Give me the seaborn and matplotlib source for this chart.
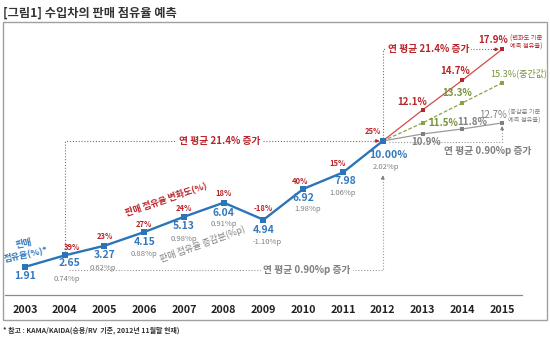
import numpy as np
import pandas as pd
import matplotlib
matplotlib.use("Agg")
import matplotlib.pyplot as plt
from matplotlib.patches import Rectangle
import seaborn as sns

sns.set_theme(style="white")
plt.rcParams['font.family'] = ['Noto Sans CJK KR', 'DejaVu Sans']

# ---------------- data ----------------
years = [2003, 2004, 2005, 2006, 2007, 2008, 2009, 2010, 2011, 2012, 2013, 2014, 2015]
hist_years = [2003, 2004, 2005, 2006, 2007, 2008, 2009, 2010, 2011, 2012]
share = [1.91, 2.65, 3.27, 4.15, 5.13, 6.04, 4.94, 6.92, 7.98, 10.00]
pct_change = [None, 39, 23, 27, 24, 18, -18, 40, 15, 25]
pp_change = [None, 0.74, 0.62, 0.88, 0.98, 0.91, -1.10, 1.98, 1.06, 2.02]

fc_years = [2013, 2014, 2015]
# printed forecast values
red_values = [12.1, 14.7, 17.9]
green_values = [11.5, 13.3, 15.3]
gray_values = [10.9, 11.8, 12.7]
# heights at which the (schematic) forecast points are drawn in the picture
red_level = [11.99, 13.90, 15.88]
green_level = [11.16, 12.44, 13.73]
gray_level = [10.45, 10.77, 11.16]

title = "[그림1] 수입차의 판매 점유율 예측"
footnote = "* 참고 : KAMA/KAIDA(승용/RV  기준, 2012년 11월말 현재)"

# ---------------- colours ----------------
BLUE = '#2c74b9'
BLUE_T = '#3579bd'
RED = '#b9252b'
RED_L = '#cf4b4b'
GREEN = '#77933c'
GREEN_L = '#88a448'
GRAY = '#808080'
GRAY_L = '#9a9a9a'

pos = {y: i for i, y in enumerate(years)}
df_hist = pd.DataFrame({'x': [pos[y] for y in hist_years], 'share': share})
start_x = pos[hist_years[-1]]
start_y = share[-1]
def fc_df(level):
    return pd.DataFrame({'x': [start_x] + [pos[y] for y in fc_years],
                         'share': [start_y] + level})

fig = plt.figure(figsize=(5.5, 3.4), dpi=100)
ax = fig.add_axes([5/550, (340-294.5)/340, 517/550, (294.5-22)/340])
ax.set_xlim(-0.5, 12.5)
ax.set_ylim(0.14, 17.64)
ax.patch.set_alpha(0)

# frame box and titles
fig.patches.append(Rectangle((3/550, (340-320)/340), 544/550, 298/340,
                             transform=fig.transFigure, fill=False,
                             edgecolor='#a0a0a0', lw=1.0))
fig.text(3/550, 1-13/340, title, fontsize=8.8, fontweight='bold',
         color='#333333', ha='left', va='center')
fig.text(3/550, 1-330/340, footnote, fontsize=5, fontweight='bold',
         color='#333333', ha='left', va='center')

# forecast lines
sns.lineplot(data=fc_df(red_level), x='x', y='share', ax=ax, color=RED_L,
             lw=0.9, marker='s', markersize=3.5, markeredgewidth=0,
             markerfacecolor=RED, zorder=3)
sns.lineplot(data=fc_df(green_level), x='x', y='share', ax=ax, color=GREEN_L,
             lw=0.9, linestyle=(0, (3, 1.5)), marker='s', markersize=3.5,
             markeredgewidth=0, markerfacecolor=GREEN_L, zorder=3)
sns.lineplot(data=fc_df(gray_level), x='x', y='share', ax=ax, color=GRAY_L,
             lw=0.9, marker='s', markersize=3.5, markeredgewidth=0,
             markerfacecolor=GRAY, zorder=3)
# history line
sns.lineplot(data=df_hist, x='x', y='share', ax=ax, color=BLUE, lw=1.7,
             marker='s', markersize=4.3, markeredgewidth=0, zorder=5)

# axes styling
for s in ['top', 'left', 'right']:
    ax.spines[s].set_visible(False)
ax.spines['bottom'].set_color('#8a8a8a')
ax.spines['bottom'].set_linewidth(0.9)
ax.set_xticks(range(len(years)))
ax.set_xticklabels([str(y) for y in years], fontsize=7.8, fontweight='bold',
                   color='#222222')
ax.set_xticks(np.arange(-0.5, len(years), 1.0), minor=True)
ax.tick_params(axis='x', which='major', length=0, pad=7.5)
ax.tick_params(axis='x', which='minor', length=4, direction='inout',
               color='#8a8a8a', width=0.8)
ax.set_yticks([])
ax.set_xlabel('')
ax.set_ylabel('')

def lab(x, y, text, dx, dy, color, size, weight='bold', ha='center', **kw):
    ax.annotate(text, (x, y), xytext=(dx, dy), textcoords='offset pixels',
                ha=ha, va='center', fontsize=size, fontweight=weight,
                color=color, annotation_clip=False, zorder=6, **kw)

# history labels
pct_off = [None, (7, 8), (0, 9), (0, 8), (0, 8), (0, 9), (0, 11), (-3, 7), (-5, 9), (-10, 9)]
val_off = [(0, -9), (5, -8), (0, -9), (0, -10), (0, -9), (0, -10), (0, -10), (0, -9), (2, -9), (6, -14)]
pp_off = [None, (2, -24), (-2, -22), (0, -22), (0, -22), (0, -21), (4, -22), (4, -20), (0, -21), (3, -26)]
for i, yr in enumerate(hist_years):
    x, y = pos[yr], share[i]
    vt = f"{share[i]:.2f}" + ('%' if i == len(hist_years) - 1 else '')
    lab(x, y, vt, *val_off[i], BLUE_T, 7.5)
    if pct_change[i] is not None:
        lab(x, y, f"{pct_change[i]}%", *pct_off[i], RED, 5.5)
    if pp_change[i] is not None:
        lab(x, y, f"{pp_change[i]:.2f}%p", *pp_off[i], GRAY, 5.5, weight='normal')

# forecast labels
red_off = [(-10, 8), (-7, 9), (-9, 9)]
for i, yr in enumerate(fc_years):
    lab(pos[yr], red_level[i], f"{red_values[i]}%", *red_off[i], RED, 7)
lab(pos[2015], red_level[2], "(변화도 기준\n예측 점유율)", 8, 7, RED, 4.5,
    ha='left', weight='normal', linespacing=1.0)

lab(pos[2013], green_level[0], f"{green_values[0]}%", 6, 0, GREEN, 7, ha='left')
lab(pos[2014], green_level[1], f"{green_values[1]}%", -5, 10, GREEN, 7)
lab(pos[2015], green_level[2], f"{green_values[2]}%(중간값)", -12, 10, GREEN, 6.5,
    ha='left', weight='normal')

lab(pos[2013], gray_level[0], f"{gray_values[0]}%", 3, -8, GRAY, 7)
lab(pos[2014], gray_level[1], f"{gray_values[1]}%", 10, 7, GRAY, 7)
lab(pos[2015], gray_level[2], f"{gray_values[2]}%", -9, 8, GRAY, 7, weight='normal')
lab(pos[2015], gray_level[2], "(증감분 기준\n예측 점유율)", 6, 6, GRAY, 4.5,
    ha='left', weight='normal', linespacing=1.0)

# rotated captions
lab(0, share[0], "판매\n점유율(%)*", 0, 18, BLUE_T, 6.5, rotation=12, linespacing=1.0)
lab(pos[2006], share[3], "판매 점유율 변화도(%)", 22, 33, RED, 6.5, rotation=19)
lab(pos[2008], share[5], "판매 점유율 증감분(%p)", -21, -41, GRAY, 6.5,
    weight='normal', rotation=20)

# dotted guide lines
DOT = (0, (1, 1.6))
def arrow(x0, y0, x1, y1, color):
    ax.annotate('', xy=(x1, y1), xytext=(x0, y0),
                arrowprops=dict(arrowstyle='-|>', color=color, lw=0.7,
                                mutation_scale=5, shrinkA=0, shrinkB=0),
                annotation_clip=False, zorder=4)

x04, x12, x15 = pos[2004], pos[2012], pos[2015]
# red: 2004 -> 2012
ax.plot([x04, x04, x12 - 0.1], [share[1], share[-1], share[-1]], color=RED_L,
        lw=0.8, linestyle=DOT, zorder=2)
arrow(x12 - 0.2, share[-1], x12 - 0.08, share[-1], RED)
ax.text((x04 + x12) / 2 - 0.1, share[-1], "연 평균 21.4% 증가", fontsize=7,
        fontweight='bold', color=RED, ha='center', va='center', zorder=4,
        bbox=dict(facecolor='white', edgecolor='none', pad=1.5))
# red: 2012 -> 2015
ax.plot([x12, x12, x15 - 0.1], [share[-1], red_level[2], red_level[2]],
        color=RED_L, lw=0.8, linestyle=DOT, zorder=2)
arrow(x15 - 0.22, red_level[2], x15 - 0.08, red_level[2], RED)
ax.text(x12 + 1.15, red_level[2], "연 평균 21.4% 증가", fontsize=7,
        fontweight='bold', color=RED, ha='center', va='center', zorder=4,
        bbox=dict(facecolor='white', edgecolor='none', pad=1.5))

# gray: 2004 -> 2012
g_low = 1.71
ax.plot([x04 + 0.1, x12, x12], [g_low, g_low, share[-1] - 2.25], color=GRAY_L,
        lw=0.8, linestyle=DOT, zorder=2)
arrow(x12, share[-1] - 2.45, x12, share[-1] - 2.2, GRAY)
ax.text(7.1, g_low, "연 평균 0.90%p 증가", fontsize=7, fontweight='bold',
        color=GRAY, ha='center', va='center', zorder=4,
        bbox=dict(facecolor='white', edgecolor='none', pad=1.5))
# gray: 2012 -> 2015
g_base = share[-1] - 0.07
ax.plot([x12 + 0.15, x15, x15], [g_base, g_base, gray_level[2] - 0.25],
        color=GRAY_L, lw=0.8, linestyle=DOT, zorder=2)
arrow(x15, gray_level[2] - 0.45, x15, gray_level[2] - 0.2, GRAY)
ax.annotate("연 평균 0.90%p 증가", (pos[2014], g_base), xytext=(25, -9),
            textcoords='offset pixels', fontsize=7, fontweight='bold',
            color=GRAY, ha='center', va='center', annotation_clip=False)

fig.savefig("out.png", dpi=100)
